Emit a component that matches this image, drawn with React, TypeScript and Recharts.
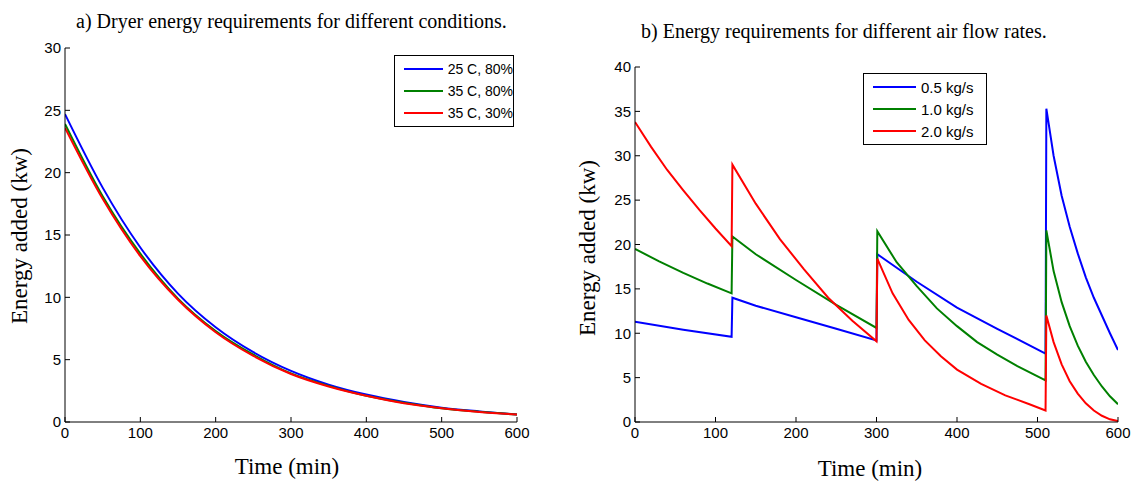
import React from 'react';
import { LineChart, Line, XAxis, YAxis, Legend } from 'recharts';

// a) dryer energy for different conditions (kW vs min)
const timeA = [0, 50, 100, 150, 200, 250, 300, 350, 400, 450, 500, 550, 600];
const energy25c80 = [24.7, 18.8, 14.0, 10.3, 7.6, 5.6, 4.1, 3.0, 2.2, 1.6, 1.15, 0.85, 0.6];
const energy35c80 = [23.9, 18.1, 13.5, 9.9, 7.3, 5.4, 3.9, 2.9, 2.1, 1.55, 1.1, 0.82, 0.6];
const energy35c30 = [23.6, 17.9, 13.3, 9.8, 7.2, 5.3, 3.85, 2.85, 2.1, 1.5, 1.1, 0.8, 0.6];
const namesA = ['25 C, 80%', '35 C, 80%', '35 C, 30%'];

// b) energy for different air flow rates
const time05 = [0, 60, 120, 121, 150, 200, 250, 300, 301, 350, 400, 450, 510, 511, 520, 530, 540, 550, 560, 570, 580, 590, 600];
const energy05 = [11.3, 10.4, 9.6, 14.0, 13.1, 11.8, 10.5, 9.2, 18.9, 15.8, 12.9, 10.5, 7.7, 35.3, 30.0, 25.5, 22.0, 19.0, 16.3, 14.0, 12.0, 10.0, 8.1];

const time10 = [0, 30, 60, 90, 120, 121, 150, 200, 250, 300, 301, 325, 350, 375, 400, 425, 450, 475, 510, 511, 520, 530, 540, 550, 560, 570, 580, 590, 600];
const energy10 = [19.5, 18.1, 16.8, 15.6, 14.5, 20.9, 18.9, 16.0, 13.2, 10.6, 21.5, 18.0, 15.3, 12.8, 10.8, 9.0, 7.6, 6.3, 4.7, 21.6, 17.0, 13.5, 10.8, 8.6, 6.8, 5.3, 4.0, 2.9, 2.0];

const time20 = [0, 20, 40, 60, 80, 100, 120, 121, 150, 180, 210, 240, 270, 300, 301, 320, 340, 360, 380, 400, 430, 460, 490, 510, 511, 520, 530, 540, 550, 560, 570, 580, 590, 600];
const energy20 = [33.8, 31.0, 28.4, 26.1, 23.9, 21.8, 19.8, 29.0, 24.6, 20.6, 17.2, 14.0, 11.4, 9.1, 18.4, 14.5, 11.5, 9.2, 7.4, 5.9, 4.3, 3.0, 2.0, 1.3, 12.0, 9.0, 6.5, 4.6, 3.2, 2.1, 1.3, 0.7, 0.3, 0.1];
const namesB = ['0.5 kg/s', '1.0 kg/s', '2.0 kg/s'];

const timeTicks = [0, 100, 200, 300, 400, 500, 600];
const ticksA = [0, 5, 10, 15, 20, 25, 30];
const ticksB = [0, 5, 10, 15, 20, 25, 30, 35, 40];

const toPoints = (t: number[], v: number[]) => t.map((x, i) => ({ t: x, v: v[i] }));

const sans = 'Liberation Sans, Arial, sans-serif';
const serif = 'Liberation Serif, Times New Roman, serif';
const tickFont = { fontFamily: sans, fontSize: 15, fill: '#000' };

const boxLegend = (order: string[], width: number, fontSize: number, lineLen: number) => (props: any) => {
  const items = [...(props.payload || [])].sort((a: any, b: any) => order.indexOf(a.value) - order.indexOf(b.value));
  return (
    <div style={{ border: '1px solid #000', background: '#fff', padding: '2px 0 2px 9px', width, boxSizing: 'border-box' }}>
      {items.map((p: any) => (
        <div key={p.value} style={{ display: 'flex', alignItems: 'center', height: 22 }}>
          <div style={{ width: lineLen, height: 2, background: p.color, marginRight: 5 }} />
          <span style={{ fontFamily: sans, fontSize, color: '#000', whiteSpace: 'nowrap' }}>{p.value}</span>
        </div>
      ))}
    </div>
  );
};

// MATLAB-style boxed axes with inward ticks
const boxAxes = (ticks: number[], max: number) => [
  <XAxis key="xb" xAxisId="b" dataKey="t" type="number" domain={[0, 600]} ticks={timeTicks} allowDataOverflow
    height={30} tickSize={-5} tickMargin={10} stroke="#000" tick={tickFont} interval={0} />,
  <XAxis key="xt" xAxisId="t" orientation="top" dataKey="t" type="number" domain={[0, 600]} ticks={timeTicks}
    height={0} tickSize={-5} tick={false} stroke="#000" />,
  <YAxis key="yl" yAxisId="l" type="number" domain={[0, max]} ticks={ticks} allowDataOverflow
    width={30} tickSize={-5} tickMargin={9} stroke="#000" tick={tickFont} interval={0} />,
  <YAxis key="yr" yAxisId="r" orientation="right" type="number" domain={[0, max]} ticks={ticks}
    width={0} tickSize={-5} tick={false} stroke="#000" />,
];

export default function App() {
  const dataA1 = toPoints(timeA, energy25c80);
  const dataA2 = toPoints(timeA, energy35c80);
  const dataA3 = toPoints(timeA, energy35c30);
  const dataB1 = toPoints(time05, energy05);
  const dataB2 = toPoints(time10, energy10);
  const dataB3 = toPoints(time20, energy20);

  return (
    <div style={{ position: 'absolute', left: 0, top: 0, width: 1133, height: 485, background: '#fff', overflow: 'hidden' }}>
      <div style={{ position: 'absolute', left: 0, top: 0 }}>
        <LineChart width={560} height={485} margin={{ top: 48, right: 43, bottom: 33, left: 35 }}>
          {boxAxes(ticksA, 30)}
          <Legend layout="horizontal" verticalAlign="middle" align="center" content={boxLegend(namesA, 120, 14, 40)}
            wrapperStyle={{ left: 394, top: 55, width: 'auto', height: 'auto' }} />
          <Line xAxisId="b" yAxisId="l" data={dataA1} dataKey="v" name={namesA[0]} type="monotone" stroke="#0000ff" strokeWidth={2} dot={false} isAnimationActive={false} />
          <Line xAxisId="b" yAxisId="l" data={dataA2} dataKey="v" name={namesA[1]} type="monotone" stroke="#008000" strokeWidth={2} dot={false} isAnimationActive={false} />
          <Line xAxisId="b" yAxisId="l" data={dataA3} dataKey="v" name={namesA[2]} type="monotone" stroke="#ff0000" strokeWidth={2} dot={false} isAnimationActive={false} />
        </LineChart>
      </div>
      <div style={{ position: 'absolute', left: 570, top: 0 }}>
        <LineChart width={563} height={485} margin={{ top: 67, right: 15, bottom: 33, left: 35 }}>
          {boxAxes(ticksB, 40)}
          <Legend layout="horizontal" verticalAlign="middle" align="center" content={boxLegend(namesB, 124, 15, 43)}
            wrapperStyle={{ left: 293, top: 73, width: 'auto', height: 'auto' }} />
          <Line xAxisId="b" yAxisId="l" data={dataB1} dataKey="v" name={namesB[0]} type="linear" stroke="#0000ff" strokeWidth={2} dot={false} isAnimationActive={false} />
          <Line xAxisId="b" yAxisId="l" data={dataB2} dataKey="v" name={namesB[1]} type="linear" stroke="#008000" strokeWidth={2} dot={false} isAnimationActive={false} />
          <Line xAxisId="b" yAxisId="l" data={dataB3} dataKey="v" name={namesB[2]} type="linear" stroke="#ff0000" strokeWidth={2} dot={false} isAnimationActive={false} />
        </LineChart>
      </div>

      {/* titles and axis labels */}
      <div style={{ position: 'absolute', left: 76, width: 400, top: 10, textAlign: 'center', fontFamily: serif, fontSize: 20, whiteSpace: 'nowrap' }}>
        a) Dryer energy requirements for different conditions.
      </div>
      <div style={{ position: 'absolute', left: 641, width: 400, top: 20, textAlign: 'center', fontFamily: serif, fontSize: 20, whiteSpace: 'nowrap' }}>
        b) Energy requirements for different air flow rates.
      </div>
      <div style={{ position: 'absolute', left: 187, width: 200, top: 454, textAlign: 'center', fontFamily: serif, fontSize: 23 }}>
        Time (min)
      </div>
      <div style={{ position: 'absolute', left: 770, width: 200, top: 456, textAlign: 'center', fontFamily: serif, fontSize: 23 }}>
        Time (min)
      </div>
      <div style={{ position: 'absolute', left: 20, top: 236, transform: 'translate(-50%, -50%) rotate(-90deg)', fontFamily: serif, fontSize: 23, whiteSpace: 'nowrap' }}>
        Energy added (kw)
      </div>
      <div style={{ position: 'absolute', left: 588, top: 248, transform: 'translate(-50%, -50%) rotate(-90deg)', fontFamily: serif, fontSize: 23, whiteSpace: 'nowrap' }}>
        Energy added (kw)
      </div>
    </div>
  );
}
